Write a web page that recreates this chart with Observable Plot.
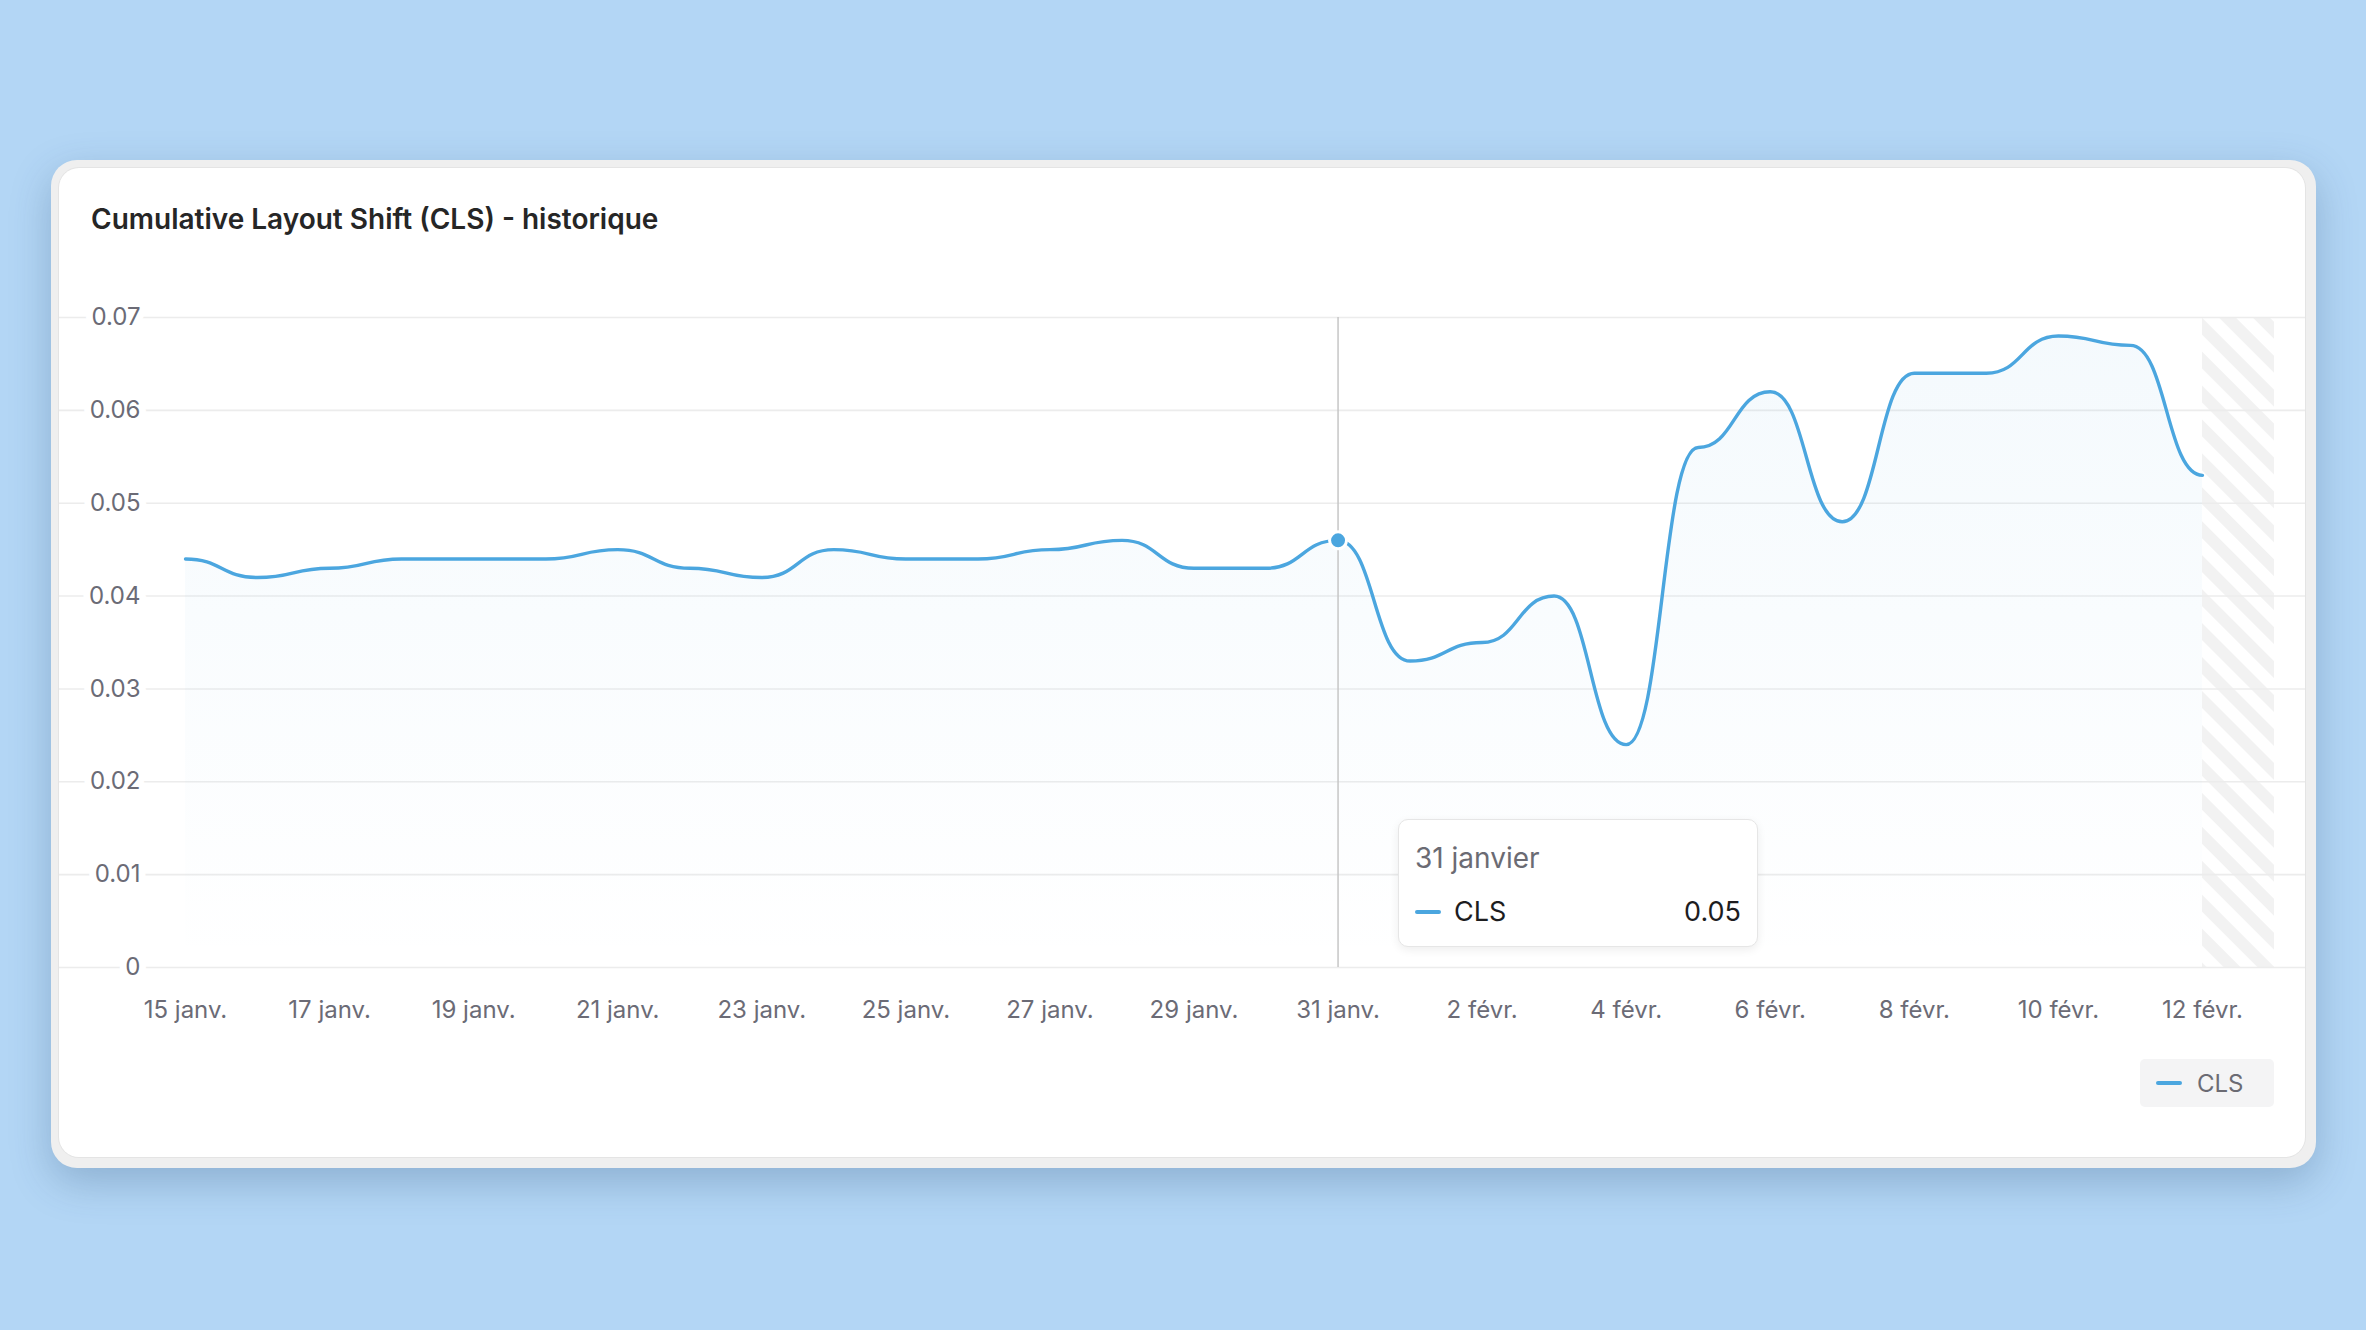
<!DOCTYPE html>
<html>
<head>
<meta charset="utf-8">
<script src="https://cdn.jsdelivr.net/npm/d3@7"></script>
<script src="https://cdn.jsdelivr.net/npm/@observablehq/plot@0.6"></script>
<style>
  html, body { margin: 0; padding: 0; }
  body { width: 2366px; height: 1330px; background: #b3d6f5; position: relative; overflow: hidden; font-family: Inter, "Noto Sans", sans-serif; }
  .outer { position: absolute; left: 51px; top: 160px; width: 2265px; height: 1008px; background: #efefef; border-radius: 26px; box-shadow: 0 14px 40px rgba(40, 75, 115, 0.28); }
  .card { position: absolute; left: 8px; top: 8px; width: 2246px; height: 989px; background: #fff; border-radius: 20px; box-shadow: 0 0 0 1px #e4e4e4; }
  .title { position: absolute; left: 32px; top: 37px; font-size: 28px; line-height: 28px; font-weight: 600; color: #262626; }
  #chart { position: absolute; left: 0; top: 94px; }
  .tip { position: absolute; left: 1398px; top: 819px; width: 358px; height: 126px; background: #fff; border: 1px solid #e6e6e6; border-radius: 10px; box-shadow: 0 3px 10px rgba(0,0,0,0.07); }
  .tip .date { position: absolute; left: 16px; top: 22px; font-size: 28px; line-height: 32px; color: #6b6b73; }
  .tip .sw { position: absolute; left: 16px; top: 90px; width: 26px; height: 4px; border-radius: 2px; background: #4ba6df; }
  .tip .name { position: absolute; left: 55px; top: 76px; font-size: 27px; line-height: 32px; color: #1d1d1f; }
  .tip .val { position: absolute; right: 16px; top: 76px; font-size: 27px; line-height: 32px; color: #1d1d1f; }
  .legend { position: absolute; left: 2140px; top: 1059px; width: 134px; height: 48px; background: #f4f4f5; border-radius: 5px; }
  .legend .sw { position: absolute; left: 16px; top: 22px; width: 26px; height: 4px; border-radius: 2px; background: #4ba6df; }
  .legend .name { position: absolute; left: 57px; top: 11px; font-size: 24px; line-height: 28px; color: #6b6b73; }
</style>
</head>
<body>
<div class="outer"><div class="card">
  <div class="title">Cumulative Layout Shift (CLS) - historique</div>
  <div id="chart"></div>
</div></div>
<div class="tip" id="tip"><div class="date"></div><div class="sw"></div><div class="name"></div><div class="val"></div></div>
<div class="legend"><div class="sw"></div><div class="name"></div></div>
<script>
const seriesName = "CLS";
const dates = [
  "2025-01-15","2025-01-16","2025-01-17","2025-01-18","2025-01-19","2025-01-20","2025-01-21",
  "2025-01-22","2025-01-23","2025-01-24","2025-01-25","2025-01-26","2025-01-27","2025-01-28",
  "2025-01-29","2025-01-30","2025-01-31","2025-02-01","2025-02-02","2025-02-03","2025-02-04",
  "2025-02-05","2025-02-06","2025-02-07","2025-02-08","2025-02-09","2025-02-10","2025-02-11",
  "2025-02-12"
];
const cls = [
  0.044, 0.042, 0.043, 0.044, 0.044, 0.044, 0.045,
  0.043, 0.042, 0.045, 0.044, 0.044, 0.045, 0.046,
  0.043, 0.043, 0.046, 0.033, 0.035, 0.040, 0.024,
  0.056, 0.062, 0.048, 0.064, 0.064, 0.068, 0.067,
  0.053
];
const yTicks = [0, 0.01, 0.02, 0.03, 0.04, 0.05, 0.06, 0.07];
const yTickLabels = ["0", "0.01", "0.02", "0.03", "0.04", "0.05", "0.06", "0.07"];
const xTicks = ["2025-01-15","2025-01-17","2025-01-19","2025-01-21","2025-01-23","2025-01-25","2025-01-27",
  "2025-01-29","2025-01-31","2025-02-02","2025-02-04","2025-02-06","2025-02-08","2025-02-10","2025-02-12"];
const xTickLabels = ["15 janv.","17 janv.","19 janv.","21 janv.","23 janv.","25 janv.","27 janv.",
  "29 janv.","31 janv.","2 févr.","4 févr.","6 févr.","8 févr.","10 févr.","12 févr."];
const monthNames = ["janvier","février","mars","avril","mai","juin","juillet","août","septembre","octobre","novembre","décembre"];
const selectedDate = "2025-01-31";
const incomplete = ["2025-02-12", "2025-02-13"];
const xDomain = ["2025-01-15", "2025-02-13"];
const yDomain = [0, 0.07];

const data = dates.map((d, i) => ({date: new Date(d), value: cls[i]}));
const selected = data.filter(d => +d.date === +new Date(selectedDate));
const color = "#4ba6df";
const labelColor = "#6b6b76";

const plot = Plot.plot({
  width: 2246,
  height: 780,
  marginLeft: 126,
  marginRight: 31,
  marginTop: 55,
  marginBottom: 75,
  style: {fontFamily: "Inter, 'Noto Sans', sans-serif", background: "transparent", overflow: "visible"},
  x: {type: "utc", domain: xDomain.map(d => new Date(d)), axis: null},
  y: {domain: yDomain, axis: null},
  marks: [
    Plot.rect([incomplete], {x1: d => new Date(d[0]), x2: d => new Date(d[1]), fill: "url(#hatch)"}),
    Plot.ruleY(yTicks, {stroke: "#ececec", strokeWidth: 1.6, insetLeft: -126, insetRight: -31}),
    Plot.text(yTicks, {y: d => d, text: (d, i) => yTickLabels[i], frameAnchor: "left", dx: -45, textAnchor: "end",
      fill: labelColor, stroke: "white", strokeWidth: 14, paintOrder: "stroke", fontSize: 24}),
    Plot.text(xTicks, {x: d => new Date(d), text: (d, i) => xTickLabels[i], frameAnchor: "bottom", dy: 50,
      fill: labelColor, fontSize: 24}),
    Plot.areaY(data, {x: "date", y: "value", curve: "bump-x", fill: "url(#areaFill)"}),
    Plot.ruleX(selected, {x: "date", stroke: "#c6c6c6", strokeWidth: 1.5}),
    Plot.lineY(data, {x: "date", y: "value", curve: "bump-x", stroke: color, strokeWidth: 3.4}),
    Plot.dot(selected, {x: "date", y: "value", r: 8.5, fill: color, stroke: "white", strokeWidth: 3})
  ]
});

const defs = document.createElementNS("http://www.w3.org/2000/svg", "defs");
defs.innerHTML = `
  <pattern id="hatch" patternUnits="userSpaceOnUse" width="24" height="24" patternTransform="rotate(-45)">
    <rect width="24" height="24" fill="#ffffff"/>
    <rect width="12" height="24" fill="#f2f2f2"/>
  </pattern>
  <linearGradient id="areaFill" x1="0" y1="0" x2="0" y2="1">
    <stop offset="0" stop-color="${color}" stop-opacity="0.06"/>
    <stop offset="1" stop-color="${color}" stop-opacity="0.0"/>
  </linearGradient>`;
plot.insertBefore(defs, plot.firstChild);
document.getElementById("chart").appendChild(plot);

const s = selected[0];
const tip = document.getElementById("tip");
tip.querySelector(".date").textContent = `${s.date.getUTCDate()} ${monthNames[s.date.getUTCMonth()]}`;
tip.querySelector(".name").textContent = seriesName;
tip.querySelector(".val").textContent = d3.format(".2f")(s.value);
document.querySelector(".legend .name").textContent = seriesName;
</script>
</body>
</html>
